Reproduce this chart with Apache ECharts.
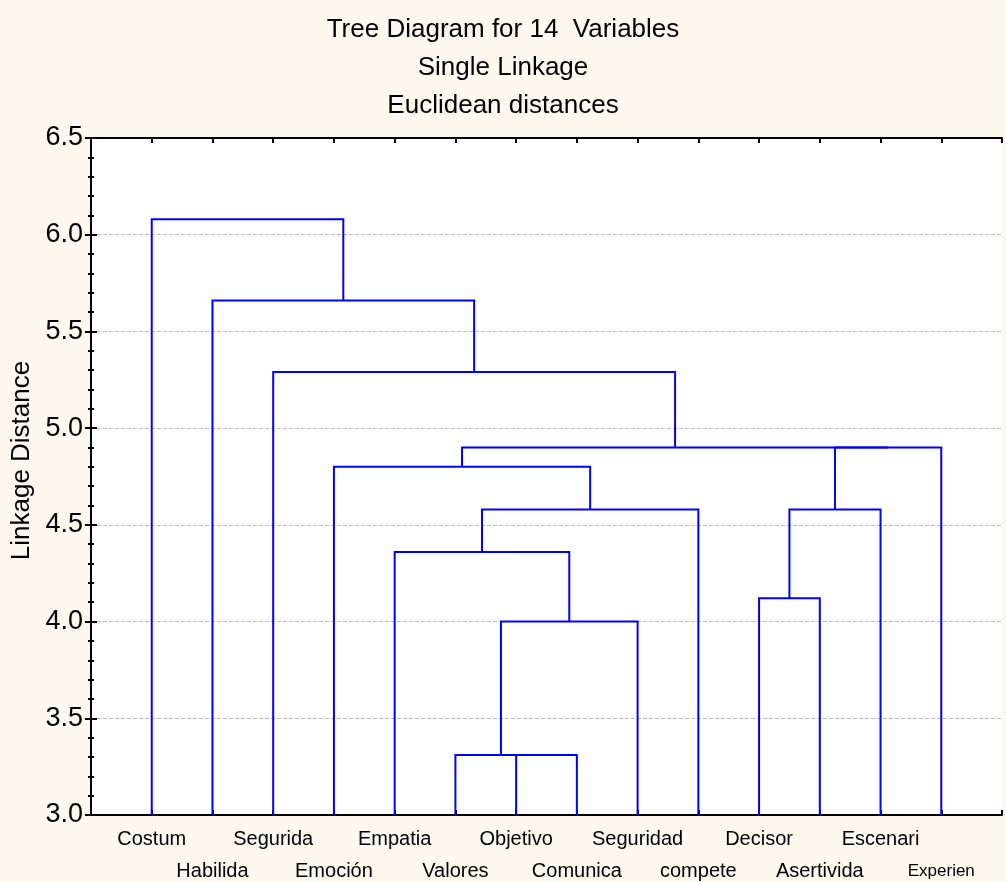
<!DOCTYPE html>
<html>
<head>
<meta charset="utf-8">
<script src="https://cdn.jsdelivr.net/npm/echarts@6/dist/echarts.min.js"></script>
<style>
html,body{margin:0;padding:0;background:#FDF9EF;}
#chart{width:1006px;height:882px;}
</style>
</head>
<body>
<div id="chart"></div>
<script>
// ---- Data ----
var titleLines = ['Tree Diagram for 14  Variables', 'Single Linkage', 'Euclidean distances'];
var yAxisName = 'Linkage Distance';
var leaves = ['Costum','Habilida','Segurida','Emoción','Empatia','Valores','Objetivo','Comunica','Seguridad','compete','Decisor','Asertivida','Escenari','Experien'];
// merges: node ids 0..13 are leaves, each merge creates node 14, 15, ...
var mergeLeft   = [6, 5, 15, 10, 4, 18, 17, 3, 20, 21, 2, 1, 0];
var mergeRight  = [7, 14, 8, 11, 16, 9, 12, 19, 13, 22, 23, 24, 25];
var mergeHeight = [3.31, 3.31, 4.00, 4.12, 4.36, 4.58, 4.58, 4.80, 4.90, 4.90, 5.29, 5.66, 6.08];
var yTicks = [3.0, 3.5, 4.0, 4.5, 5.0, 5.5, 6.0, 6.5];

// ---- Build dendrogram segments ----
var nodeX = [], nodeH = [];
leaves.forEach(function(n, i){ nodeX.push(i + 1); nodeH.push(yTicks[0]); });
var links = [];
for (var k = 0; k < mergeHeight.length; k++) {
  var l = mergeLeft[k], r = mergeRight[k], h = mergeHeight[k];
  links.push([nodeX[l], nodeH[l], nodeX[r], nodeH[r], h]);
  nodeX.push((nodeX[l] + nodeX[r]) / 2);
  nodeH.push(h);
}

var chart = echarts.init(document.getElementById('chart'));
var FONT = 'Liberation Sans, Arial, sans-serif';
var leafIndex = {};
leaves.forEach(function(n, i){ leafIndex[i + 1] = i; });

chart.setOption({
  backgroundColor: '#FDF9EF',
  animation: false,
  title: {
    text: titleLines.join('\n'),
    left: 'center', top: 6,
    textStyle: { fontFamily: 'Liberation Sans Narrow, ' + FONT, fontSize: 26, fontWeight: 'normal', color: '#000', lineHeight: 38 }
  },
  grid: { left: 91, right: 4, top: 138, bottom: 67, show: true, backgroundColor: '#ffffff', borderWidth: 0, containLabel: false, outerBoundsMode: 'none' },
  xAxis: [{
    type: 'value', min: 0, max: leaves.length + 1, interval: 1, position: 'bottom',
    axisLine: { lineStyle: { color: '#000', width: 2 } },
    axisTick: { inside: true, length: 5, lineStyle: { color: '#000', width: 2 } },
    splitLine: { show: false },
    axisLabel: {
      margin: 8, color: '#000', fontFamily: FONT, fontSize: 20, lineHeight: 32,
      showMinLabel: true, showMaxLabel: true, hideOverlap: false,
      formatter: function(v){
        var i = leafIndex[Math.round(v)];
        if (i === undefined) return '';
        var name = leaves[i];
        if (i === leaves.length - 1) return '\n{s|' + name + '}';
        return (i % 2 === 0) ? '{a|' + name + '}' : '\n{a|' + name + '}';
      },
      rich: {
        a: { fontFamily: FONT, fontSize: 20, lineHeight: 32, color: '#000' },
        s: { fontFamily: FONT, fontSize: 17, lineHeight: 32, color: '#000' }
      }
    }
  }, {
    type: 'value', min: 0, max: leaves.length + 1, interval: 1, position: 'top',
    axisLine: { lineStyle: { color: '#000', width: 2 } },
    axisTick: { inside: true, length: 5, lineStyle: { color: '#000', width: 2 } },
    axisLabel: { show: false }, splitLine: { show: false }
  }],
  yAxis: [{
    type: 'value', min: 3, max: 6.5, interval: 0.5, position: 'left',
    name: yAxisName, nameLocation: 'middle', nameGap: 53, nameRotate: 90,
    nameTextStyle: { fontFamily: FONT, fontSize: 26, color: '#000', padding: [0, 0, 0, 32] },
    axisLine: { show: true, lineStyle: { color: '#000', width: 2 } },
    axisTick: { show: true, inside: true, length: 6, lineStyle: { color: '#000', width: 2 } },
    minorTick: { show: true, splitNumber: 5, length: 3, lineStyle: { color: '#000', width: 2 } },
    splitLine: { show: true, lineStyle: { color: '#bbbbbb', type: 'dashed', width: 1 } },
    axisLabel: { margin: 8, color: '#000', fontFamily: FONT, fontSize: 27, formatter: function(v){ return v.toFixed(1); } }
  }, {
    type: 'value', min: 3, max: 6.5, interval: 0.5, position: 'right',
    axisLine: { show: true, lineStyle: { color: '#000', width: 2 } },
    axisTick: { show: true, inside: true, length: 6, lineStyle: { color: '#000', width: 2 } },
    minorTick: { show: true, splitNumber: 5, length: 3, lineStyle: { color: '#000', width: 2 } },
    splitLine: { show: false }, axisLabel: { show: false }
  }],
  series: [{
    type: 'custom',
    xAxisIndex: 0, yAxisIndex: 0,
    data: links,
    clip: false,
    renderItem: function(params, api){
      var p1 = api.coord([api.value(0), api.value(1)]);
      var p2 = api.coord([api.value(0), api.value(4)]);
      var p3 = api.coord([api.value(2), api.value(4)]);
      var p4 = api.coord([api.value(2), api.value(3)]);
      return {
        type: 'polyline',
        shape: { points: [p1, p2, p3, p4] },
        style: { stroke: '#0000FF', lineWidth: 2, fill: null }
      };
    },
    encode: { x: [0, 2], y: [1, 3, 4] },
    z: 3
  }]
});
</script>
</body>
</html>
